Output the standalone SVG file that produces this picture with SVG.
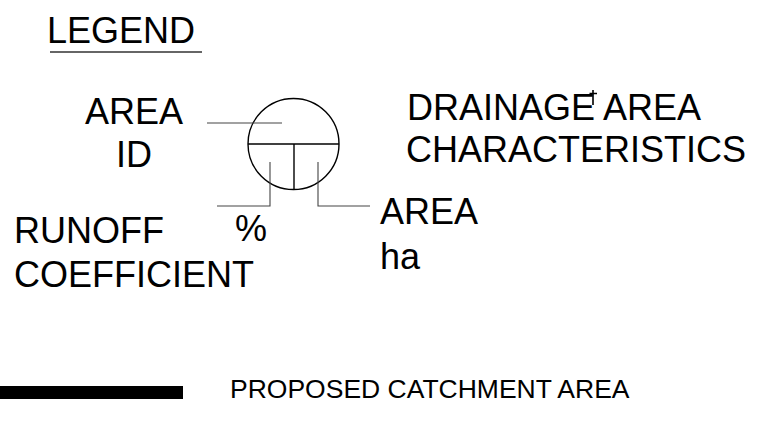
<svg xmlns="http://www.w3.org/2000/svg" width="764" height="426" viewBox="0 0 764 426">
<style>
.t{font-family:"Liberation Sans",Arial,sans-serif;font-size:36px;fill:#000}
.s{font-family:"Liberation Sans",Arial,sans-serif;font-size:26.5px;fill:#000}
.ld{fill:none;stroke:#444;stroke-width:1.1}
.sym{fill:none;stroke:#000;stroke-width:1.4}
</style>
<rect width="764" height="426" fill="#fff"/>
<g id="legend-title">
<text class="t" x="47" y="43">LEGEND</text>
<line x1="50" y1="52" x2="202" y2="52" stroke="#333" stroke-width="1.5"/>
</g>
<g id="symbol">
<circle class="sym" cx="293.5" cy="144" r="45.5"/>
<line class="sym" x1="248" y1="144" x2="339" y2="144"/>
<line class="sym" x1="294" y1="144" x2="294" y2="189.5"/>
</g>
<g id="connectors">
<polyline class="ld" points="207,123 282,123"/>
<polyline class="ld" points="270,162 270,206 217,206"/>
<polyline class="ld" points="318,162 318,206 370,206"/>
</g>
<g id="area-id">
<text class="t" x="85" y="124">AREA</text>
<text class="t" x="116" y="167">ID</text>
</g>
<g id="drainage-title">
<text class="t" x="407" y="120">DRAINAGE AREA</text>
<text class="t" x="406" y="162">CHARACTERISTICS</text>
<path d="M593 90V105M589.5 93.5H597" stroke="#000" stroke-width="1.6" fill="none"/>
</g>
<g id="runoff">
<text class="t" x="14" y="243">RUNOFF</text>
<text class="t" x="14" y="287">COEFFICIENT</text>
<text class="t" x="235" y="241">%</text>
</g>
<g id="area-ha">
<text class="t" x="380" y="224">AREA</text>
<text class="t" x="380" y="269">ha</text>
</g>
<g id="catchment">
<rect x="0" y="386" width="183" height="13" fill="#000"/>
<text class="s" x="230" y="398">PROPOSED CATCHMENT AREA</text>
</g>
</svg>
